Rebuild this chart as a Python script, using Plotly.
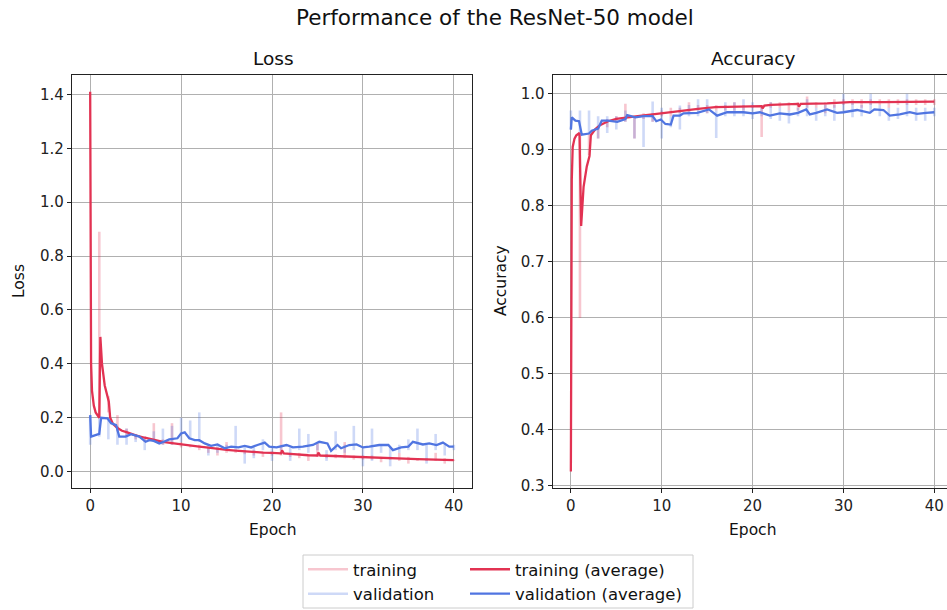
import plotly.graph_objects as go

# ---------------- data ----------------
epochs = list(range(41))

# Loss – averaged (smoothed) curves
loss_train_avg_x = [0, 0.05, 0.1, 0.2, 0.4, 0.6, 0.85, 1.0, 1.12, 1.3, 1.6, 2.0, 2.05, 2.2, 2.5, 3.0, 3.5, 4.0,
                    5, 6, 7, 8, 9, 10, 11, 12, 13, 14, 15, 16, 17, 18, 19, 20, 21, 21.1, 21.3, 22, 23, 24, 25,
                    25.1, 25.3, 26, 27, 28, 29, 30, 31, 32, 33, 34, 35, 36, 37, 38, 39, 40]
loss_train_avg_y = [1.41, 0.80, 0.40, 0.30, 0.245, 0.22, 0.205, 0.20, 0.50, 0.40, 0.32, 0.27, 0.26, 0.20, 0.178,
                    0.162, 0.152, 0.147, 0.135, 0.126, 0.118, 0.111, 0.106, 0.101, 0.097, 0.093, 0.089, 0.084,
                    0.081, 0.078, 0.075, 0.073, 0.071, 0.070, 0.068, 0.079, 0.068, 0.066, 0.063, 0.061, 0.060,
                    0.071, 0.060, 0.059, 0.058, 0.057, 0.055, 0.053, 0.052, 0.051, 0.050, 0.049, 0.048, 0.047,
                    0.046, 0.045, 0.044, 0.043]

loss_val_avg_x = [0, 0.1, 0.5, 1.0, 1.2, 1.9, 2.3, 2.85, 3.2, 3.9, 4.5, 5.4, 6.1, 6.5, 7.0, 7.6, 8.1, 8.7, 9.6,
                  10.0, 10.4, 10.9, 11.5, 12.0, 12.6, 13.3, 14.0, 14.8, 15.5, 16.3, 17.0, 17.7, 18.4, 19.2, 19.7,
                  20.5, 21.6, 22.3, 23.4, 24.5, 25.2, 26.1, 26.5, 27.2, 27.6, 28.5, 29.3, 30.0, 30.7, 31.8, 32.8,
                  33.3, 34.2, 35.0, 35.5, 36.6, 37.3, 38.1, 38.8, 39.5, 40.0]
loss_val_avg_y = [0.21, 0.13, 0.135, 0.14, 0.20, 0.198, 0.18, 0.173, 0.13, 0.13, 0.139, 0.13, 0.111, 0.117, 0.114,
                  0.105, 0.111, 0.12, 0.124, 0.142, 0.146, 0.124, 0.117, 0.117, 0.105, 0.096, 0.101, 0.087, 0.093,
                  0.09, 0.096, 0.09, 0.099, 0.108, 0.093, 0.09, 0.099, 0.09, 0.093, 0.099, 0.111, 0.105, 0.077,
                  0.099, 0.087, 0.099, 0.101, 0.09, 0.093, 0.099, 0.099, 0.080, 0.09, 0.093, 0.111, 0.101, 0.105,
                  0.099, 0.108, 0.093, 0.093]

# Loss – raw per-epoch spread (low / high)
loss_train_raw_lo = [1.41, 0.20, 0.22, 0.15, 0.13, 0.12, 0.11, 0.11, 0.10, 0.10, 0.09, 0.09, 0.08, 0.07, 0.06,
                     0.07, 0.07, 0.065, 0.06, 0.055, 0.06, 0.06, 0.055, 0.05, 0.04, 0.055, 0.05, 0.05, 0.05,
                     0.045, 0.045, 0.045, 0.035, 0.045, 0.04, 0.03, 0.04, 0.04, 0.04, 0.03, 0.04]
loss_train_raw_hi = [1.41, 0.89, 0.28, 0.21, 0.16, 0.14, 0.13, 0.18, 0.12, 0.18, 0.11, 0.10, 0.10, 0.09, 0.09,
                     0.11, 0.08, 0.08, 0.08, 0.075, 0.075, 0.22, 0.07, 0.07, 0.065, 0.11, 0.065, 0.065, 0.11,
                     0.06, 0.06, 0.06, 0.055, 0.055, 0.07, 0.055, 0.05, 0.05, 0.07, 0.05, 0.045]
loss_val_raw_lo = [0.10, 0.13, 0.12, 0.10, 0.10, 0.11, 0.08, 0.11, 0.10, 0.10, 0.11, 0.12, 0.11, 0.06, 0.07,
                   0.08, 0.08, 0.03, 0.05, 0.08, 0.04, 0.08, 0.04, 0.08, 0.07, 0.08, 0.04, 0.08, 0.07, 0.08,
                   0.02, 0.04, 0.07, 0.02, 0.07, 0.08, 0.08, 0.03, 0.08, 0.06, 0.08]
loss_val_raw_hi = [0.21, 0.20, 0.20, 0.17, 0.16, 0.14, 0.13, 0.15, 0.16, 0.17, 0.20, 0.19, 0.22, 0.10, 0.10,
                   0.10, 0.17, 0.09, 0.09, 0.12, 0.09, 0.10, 0.09, 0.16, 0.14, 0.11, 0.08, 0.15, 0.10, 0.17,
                   0.09, 0.16, 0.10, 0.09, 0.10, 0.12, 0.16, 0.10, 0.14, 0.10, 0.10]

# Accuracy – averaged curves
acc_train_avg_x = [0, 0.05, 0.1, 0.2, 0.4, 0.6, 0.95, 1.13, 1.4, 1.75, 2.05, 2.2, 2.7, 3.2, 4.1, 5.0, 5.9, 7.0,
                   7.8, 9.0, 10.0, 11.0, 12.2, 14.0, 15.9, 17.7, 19.9, 21.0, 21.1, 21.3, 22.0, 25.0, 25.1, 25.3,
                   28.2, 30.0, 30.7, 34.4, 36.9, 40.0]
acc_train_avg_y = [0.326, 0.70, 0.846, 0.905, 0.92, 0.926, 0.930, 0.764, 0.834, 0.870, 0.889, 0.926, 0.937,
                   0.944, 0.951, 0.955, 0.957, 0.960, 0.961, 0.963, 0.965, 0.967, 0.970, 0.973, 0.976, 0.977,
                   0.978, 0.978, 0.974, 0.979, 0.980, 0.982, 0.977, 0.982, 0.983, 0.984, 0.985, 0.985, 0.986,
                   0.986]

acc_val_avg_x = [0, 0.1, 0.5, 0.9, 1.2, 2.0, 2.3, 2.7, 3.0, 3.4, 4.1, 5.1, 6.0, 6.2, 7.1, 8.0, 9.0, 9.4, 9.9,
                 10.4, 11.0, 11.3, 12.0, 12.4, 13.9, 15.2, 16.1, 17.2, 19.0, 20.0, 20.8, 21.9, 23.0, 24.1, 25.0,
                 25.9, 26.3, 27.0, 28.2, 29.3, 30.0, 31.5, 32.9, 33.4, 34.4, 35.1, 36.2, 37.3, 38.1, 39.1, 40.0]
acc_val_avg_y = [0.936, 0.958, 0.952, 0.951, 0.927, 0.929, 0.934, 0.937, 0.938, 0.952, 0.952, 0.950, 0.955,
                 0.962, 0.958, 0.960, 0.960, 0.951, 0.954, 0.946, 0.945, 0.961, 0.961, 0.965, 0.966, 0.972,
                 0.961, 0.967, 0.967, 0.965, 0.967, 0.961, 0.965, 0.963, 0.966, 0.972, 0.963, 0.966, 0.972,
                 0.966, 0.967, 0.971, 0.966, 0.972, 0.971, 0.961, 0.963, 0.967, 0.964, 0.966, 0.967]

# Accuracy – raw per-epoch spread (low / high)
acc_train_raw_lo = [0.33, 0.60, 0.89, 0.92, 0.94, 0.95, 0.95, 0.92, 0.955, 0.95, 0.96, 0.96, 0.965, 0.965,
                    0.97, 0.965, 0.97, 0.97, 0.97, 0.97, 0.975, 0.923, 0.975, 0.975, 0.97, 0.97, 0.975, 0.975,
                    0.965, 0.975, 0.98, 0.98, 0.975, 0.98, 0.98, 0.975, 0.98, 0.98, 0.98, 0.98, 0.98]
acc_train_raw_hi = [0.33, 0.93, 0.93, 0.94, 0.955, 0.96, 0.982, 0.96, 0.965, 0.965, 0.97, 0.975, 0.975, 0.985,
                    0.98, 0.98, 0.98, 0.98, 0.985, 0.98, 0.98, 0.98, 0.985, 0.985, 0.985, 0.985, 0.995, 0.985,
                    0.985, 0.99, 0.99, 0.99, 0.99, 0.99, 0.99, 0.99, 0.99, 0.99, 0.99, 0.99, 0.99]
acc_val_raw_lo = [0.936, 0.93, 0.93, 0.92, 0.93, 0.936, 0.95, 0.92, 0.905, 0.95, 0.92, 0.94, 0.936, 0.96, 0.96,
                  0.965, 0.921, 0.96, 0.96, 0.96, 0.955, 0.96, 0.955, 0.952, 0.947, 0.96, 0.96, 0.952, 0.96,
                  0.952, 0.965, 0.958, 0.96, 0.965, 0.96, 0.952, 0.955, 0.96, 0.952, 0.952, 0.96]
acc_val_raw_hi = [0.97, 0.97, 0.97, 0.96, 0.96, 0.96, 0.97, 0.96, 0.962, 0.986, 0.975, 0.96, 0.979, 0.98, 0.99,
                  0.99, 0.97, 0.985, 0.985, 0.99, 0.985, 0.975, 0.985, 0.975, 0.97, 0.975, 0.99, 0.975, 0.98,
                  0.98, 1.0, 0.985, 0.98, 1.0, 0.98, 0.975, 0.975, 1.0, 0.975, 0.975, 0.975]

# ---------------- styling ----------------
C_TRAIN = "rgb(226,50,82)"
C_TRAIN_RAW = "rgba(226,50,82,0.28)"
C_VAL = "rgb(80,117,225)"
C_VAL_RAW = "rgba(80,117,225,0.28)"
FONT = "DejaVu Sans"
W, H = 947, 610


def segments(xs, lo, hi):
    sx, sy = [], []
    for x, a, b in zip(xs, lo, hi):
        sx += [x, x, None]
        sy += [a, b, None]
    return sx, sy


fig = go.Figure()

panels = [
    ("x", "y", loss_train_raw_lo, loss_train_raw_hi, loss_val_raw_lo, loss_val_raw_hi,
     loss_train_avg_x, loss_train_avg_y, loss_val_avg_x, loss_val_avg_y, True),
    ("x2", "y2", acc_train_raw_lo, acc_train_raw_hi, acc_val_raw_lo, acc_val_raw_hi,
     acc_train_avg_x, acc_train_avg_y, acc_val_avg_x, acc_val_avg_y, False),
]

for xa, ya, trl, trh, vrl, vrh, tax, tay, vax, vay, show in panels:
    sx, sy = segments(epochs, trl, trh)
    fig.add_trace(go.Scatter(x=sx, y=sy, mode="lines", name="training", xaxis=xa, yaxis=ya,
                             line=dict(color=C_TRAIN_RAW, width=2.6), showlegend=show, legend="legend",
                             legendgroup="tr", connectgaps=False))
    sx, sy = segments(epochs, vrl, vrh)
    fig.add_trace(go.Scatter(x=sx, y=sy, mode="lines", name="validation", xaxis=xa, yaxis=ya,
                             line=dict(color=C_VAL_RAW, width=2.6), showlegend=show, legend="legend",
                             legendgroup="vr", connectgaps=False))
    fig.add_trace(go.Scatter(x=tax, y=tay, mode="lines", name="training (average)", xaxis=xa, yaxis=ya,
                             line=dict(color=C_TRAIN, width=2.3), showlegend=show, legend="legend2",
                             legendgroup="ta"))
    fig.add_trace(go.Scatter(x=vax, y=vay, mode="lines", name="validation (average)", xaxis=xa, yaxis=ya,
                             line=dict(color=C_VAL, width=2.3), showlegend=show, legend="legend2",
                             legendgroup="va"))

ytop = 1 - 74.7 / H
ybot = 1 - 488 / H

axis_common = dict(showgrid=True, gridcolor="#b0b0b0", gridwidth=1.1, zeroline=False,
                   showline=True, linecolor="#222222", linewidth=1.2, ticks="outside", ticklen=4,
                   tickcolor="#222222", tickfont=dict(family=FONT, size=15, color="#222"))

LEG_FONT = dict(family=FONT, size=16.5, color="#111")

fig.update_layout(
    width=W, height=H,
    margin=dict(l=0, r=0, t=0, b=0, autoexpand=False),
    paper_bgcolor="white", plot_bgcolor="white",
    font=dict(family=FONT, color="#111"),
    xaxis=dict(domain=[72 / W, 472 / W], range=[-2, 42], tickvals=[0, 10, 20, 30, 40],
               mirror=True, anchor="y", **axis_common),
    yaxis=dict(domain=[ybot, ytop], range=[-0.0605, 1.473], tickvals=[0, 0.2, 0.4, 0.6, 0.8, 1.0, 1.2, 1.4],
               tickformat=".1f", mirror=True, anchor="x", **axis_common),
    xaxis2=dict(domain=[552.7 / W, 1.0], range=[-2, 41.4], tickvals=[0, 10, 20, 30, 40],
                mirror=True, anchor="y2", **axis_common),
    yaxis2=dict(domain=[ybot, ytop], range=[0.2964, 1.034], tickvals=[0.3, 0.4, 0.5, 0.6, 0.7, 0.8, 0.9, 1.0],
                tickformat=".1f", mirror=False, anchor="x2", **axis_common),
    legend=dict(x=303 / W, y=1 - 552 / H, xanchor="left", yanchor="top", bgcolor="rgba(0,0,0,0)",
                borderwidth=0, font=LEG_FONT, tracegroupgap=0, itemwidth=40),
    legend2=dict(x=465 / W, y=1 - 552 / H, xanchor="left", yanchor="top", bgcolor="rgba(0,0,0,0)",
                 borderwidth=0, font=LEG_FONT, tracegroupgap=0, itemwidth=40),
    shapes=[dict(type="rect", xref="paper", yref="paper", x0=303 / W, x1=693 / W,
                 y0=1 - 608 / H, y1=1 - 555 / H, line=dict(color="#cccccc", width=1),
                 fillcolor="rgba(255,255,255,0.8)", layer="below")],
    annotations=[
        dict(text="Performance of the ResNet-50 model", x=495 / W, y=1 - 18 / H, xref="paper", yref="paper",
             showarrow=False, font=dict(family=FONT, size=21.5, color="#111"), xanchor="center", yanchor="middle"),
        dict(text="Loss", x=273 / W, y=1 - 58 / H, xref="paper", yref="paper", showarrow=False,
             font=dict(family=FONT, size=18.5, color="#111"), xanchor="center", yanchor="middle"),
        dict(text="Accuracy", x=753 / W, y=1 - 58 / H, xref="paper", yref="paper", showarrow=False,
             font=dict(family=FONT, size=18.5, color="#111"), xanchor="center", yanchor="middle"),
        dict(text="Epoch", x=272 / W, y=1 - 530 / H, xref="paper", yref="paper", showarrow=False,
             font=dict(family=FONT, size=15.5, color="#111"), xanchor="center", yanchor="middle"),
        dict(text="Epoch", x=752 / W, y=1 - 530 / H, xref="paper", yref="paper", showarrow=False,
             font=dict(family=FONT, size=15.5, color="#111"), xanchor="center", yanchor="middle"),
        dict(text="Loss", x=19 / W, y=1 - 281 / H, xref="paper", yref="paper", showarrow=False, textangle=-90,
             font=dict(family=FONT, size=15.5, color="#111"), xanchor="center", yanchor="middle"),
        dict(text="Accuracy", x=501 / W, y=1 - 281 / H, xref="paper", yref="paper", showarrow=False,
             textangle=-90, font=dict(family=FONT, size=15.5, color="#111"), xanchor="center", yanchor="middle"),
    ],
)

fig.write_html("out.html")
